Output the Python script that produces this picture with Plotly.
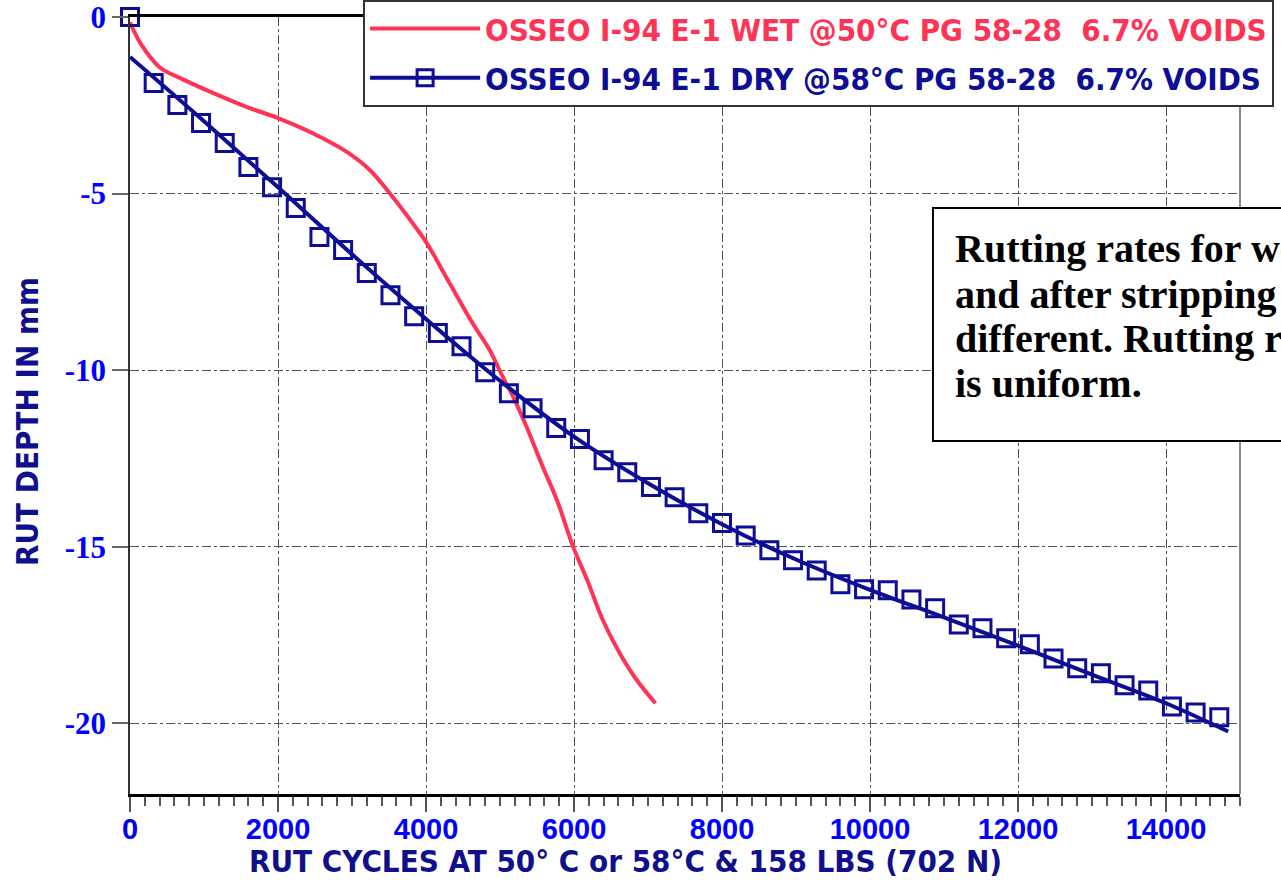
import plotly.graph_objects as go

# ---- data ----
wet_x = [0, 140, 400, 680, 1120, 1580, 2000, 2470, 2930, 3240, 3510, 3820, 4010, 4320,
         4630, 4860, 5040, 5180, 5360, 5580, 5770, 5990, 6180, 6390, 6620, 6850, 7100]
wet_y = [-0.15, -0.74, -1.42, -1.73, -2.15, -2.55, -2.86, -3.29, -3.82, -4.33, -4.99, -5.84,
         -6.40, -7.54, -8.67, -9.43, -10.2, -10.76, -11.61, -12.75, -13.68, -15.01, -15.95,
         -17.08, -18.02, -18.78, -19.43]

dry_x = [0, 320, 640, 960, 1280, 1600, 1920, 2240, 2560, 2880, 3200, 3520, 3840, 4160,
         4480, 4800, 5120, 5440, 5760, 6080, 6400, 6720, 7040, 7360, 7680, 8000, 8320,
         8640, 8960, 9280, 9600, 9920, 10240, 10560, 10880, 11200, 11520, 11840, 12160,
         12480, 12800, 13120, 13440, 13760, 14080, 14400, 14720]
dry_y = [0, -1.87, -2.49, -3.0, -3.57, -4.25, -4.82, -5.41, -6.23, -6.6, -7.25, -7.88,
         -8.47, -8.95, -9.32, -10.06, -10.65, -11.08, -11.64, -11.95, -12.55, -12.89,
         -13.31, -13.6, -14.05, -14.33, -14.68, -15.1, -15.38, -15.67, -16.06, -16.2,
         -16.23, -16.49, -16.74, -17.2, -17.31, -17.59, -17.76, -18.16, -18.44, -18.58,
         -18.92, -19.07, -19.52, -19.69, -19.83]

fit_x = [0, 1000, 2000, 3000, 4000, 5000, 6000, 7000, 8000, 9000, 10000, 11000, 12000,
         13000, 14000, 14840]
fit_y = [-1.13, -2.95, -4.82, -6.72, -8.55, -10.3, -11.88, -13.2, -14.36, -15.36, -16.22,
         -17.0, -17.8, -18.62, -19.43, -20.23]

x_tickvals = [0, 2000, 4000, 6000, 8000, 10000, 12000, 14000]
x_ticktext = ["0", "2000", "4000", "6000", "8000", "10000", "12000", "14000"]
y_tickvals = [0, -5, -10, -15, -20]
y_ticktext = ["0", "-5", "-10", "-15", "-20"]

wet_name = "OSSEO I-94 E-1 WET @50°C PG 58-28\u00a0\u00a06.7% VOIDS"
dry_name = "OSSEO I-94 E-1 DRY @58°C PG 58-28\u00a0\u00a06.7% VOIDS"
x_title = "RUT CYCLES AT 50° C or 58°C & 158 LBS (702 N)"
y_title = "RUT DEPTH IN mm"
note_lines = ["Rutting rates for wet mix before", "and after stripping are",
              "different. Rutting rate for dry mix", "is uniform."]

RED = "#FF3355"
BLUE = "#0D0D96"
TICKBLUE = "#0000FF"
NARROW = "DejaVu Sans Condensed, Liberation Sans Narrow, Arial Narrow, sans-serif"
SERIF = "Liberation Serif, Times New Roman, serif"

fig = go.Figure()
fig.add_trace(go.Scatter(
    x=wet_x, y=wet_y, mode="lines", line=dict(color=RED, width=4, shape="spline"),
    legendgroup="wet",
    name=f"<span style='color:{RED}'>{wet_name}</span>"))
fig.add_trace(go.Scatter(
    x=fit_x, y=fit_y, mode="lines", line=dict(color=BLUE, width=4, shape="spline"),
    showlegend=False))
fig.add_trace(go.Scatter(
    x=dry_x, y=dry_y, mode="markers", cliponaxis=False,
    marker=dict(symbol="square-open", size=17, color=BLUE, line=dict(width=3, color=BLUE)),
    showlegend=False))
fig.add_trace(go.Scatter(
    x=[None], y=[None], mode="lines+markers", legendgroup="dry",
    line=dict(color=BLUE, width=4),
    marker=dict(symbol="square-open", size=17, color=BLUE, line=dict(width=3, color=BLUE)),
    name=f"<span style='color:{BLUE}'>{dry_name}</span>"))

# note box (rectangle) and its lines of text
shapes = [
    dict(type="line", xref="paper", yref="paper", x0=1, x1=1, y0=0, y1=1,
         line=dict(color="#888", width=2)),
    dict(type="rect", xref="paper", yref="paper", x0=0.7234, x1=1.12, y0=0.4543, y1=0.7542,
         fillcolor="white", line=dict(color="black", width=2), layer="above"),
]
line_y = [0.7027, 0.6435, 0.5856, 0.5277]
annotations = [
    dict(text=x_title, xref="paper", yref="paper", x=0.4468, y=-0.0862,
         xanchor="center", yanchor="middle", showarrow=False,
         font=dict(family=NARROW, size=31, color="#10108C", weight="bold")),
    dict(text=y_title, xref="paper", yref="paper", x=-0.0928, y=0.48,
         xanchor="center", yanchor="middle", showarrow=False, textangle=-90,
         font=dict(family=NARROW, size=31, color="#10108C", weight="bold")),
]
for txt, yy in zip(note_lines, line_y):
    annotations.append(dict(
        text=txt, xref="paper", yref="paper", x=0.7414, y=yy,
        xanchor="left", yanchor="middle", showarrow=False, align="left",
        font=dict(family=SERIF, size=40, color="black", weight="bold")))

fig.update_layout(
    width=1281, height=880,
    margin=dict(l=130, r=41, t=17, b=86, autoexpand=False),
    paper_bgcolor="white", plot_bgcolor="white",
    showlegend=True,
    legend=dict(
        x=0.21, y=1.022, xanchor="left", yanchor="top",
        bgcolor="white", bordercolor="#333", borderwidth=2,
        font=dict(family=NARROW, size=31, weight="bold"),
        itemwidth=110, tracegroupgap=6,
    ),
    xaxis=dict(
        range=[0, 15000], tickvals=x_tickvals, ticktext=x_ticktext,
        ticks="outside", ticklen=15, tickwidth=1.5, tickcolor="#555",
        ticklabelstandoff=-8,
        minor=dict(dtick=200, ticks="outside", ticklen=9, tickwidth=1.5, tickcolor="#555",
                   showgrid=False),
        showline=True, linecolor="black", linewidth=3, mirror=True,
        showgrid=True, gridcolor="#555", griddash="dashdot", gridwidth=1,
        tickfont=dict(family="Liberation Sans, Arial, sans-serif", size=29,
                      color=TICKBLUE, weight="bold"),
        zeroline=False,
    ),
    yaxis=dict(
        range=[-22, 0.0005], tickvals=y_tickvals, ticktext=y_ticktext,
        ticks="outside", ticklen=16, tickwidth=1.5, tickcolor="#666",
        ticklabeloverflow="allow",
        showline=True, linecolor="#333", linewidth=1.5,
        showgrid=True, gridcolor="#555", griddash="dashdot", gridwidth=1,
        tickfont=dict(family=SERIF, size=31, color=TICKBLUE, weight="bold"),
        zeroline=False,
    ),
    shapes=shapes,
    annotations=annotations,
)

fig.write_html("out.html")
